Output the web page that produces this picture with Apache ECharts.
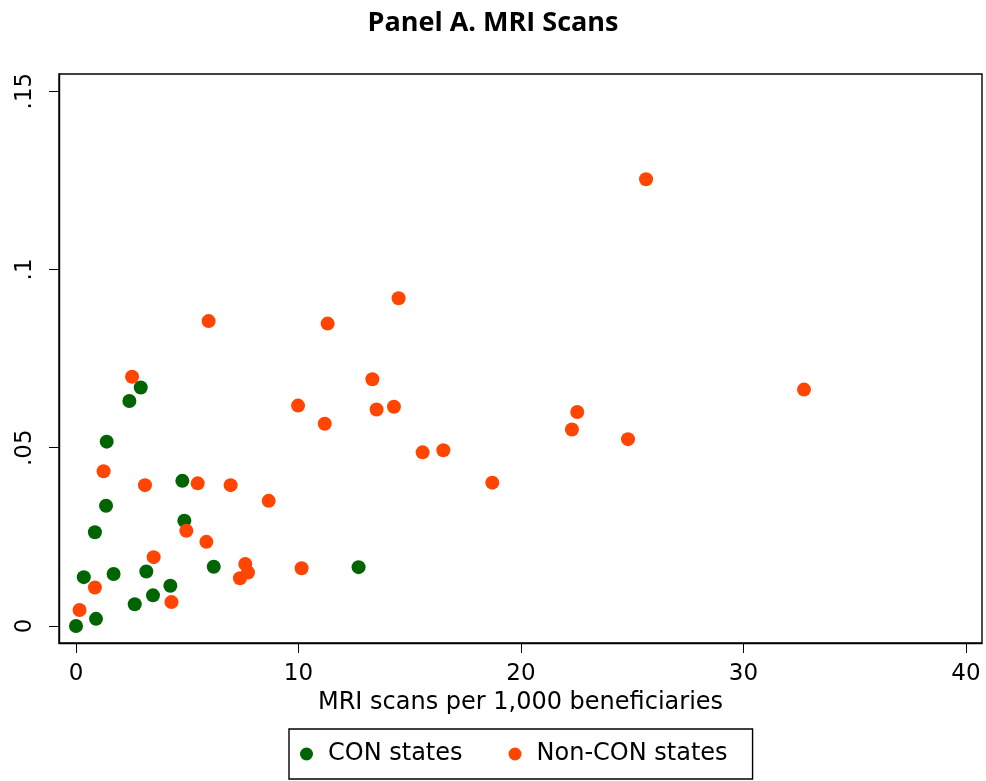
<!DOCTYPE html>
<html>
<head>
<meta charset="utf-8">
<script src="https://cdn.jsdelivr.net/npm/echarts@6/dist/echarts.min.js"></script>
<style>html,body{margin:0;padding:0;background:#fff}#chart{width:986px;height:781px}</style>
</head>
<body>
<div id="chart"></div>
<script>
const conX = [0, 0.90, 0.35, 1.69, 0.85, 1.35, 1.38, 2.40, 2.91, 2.64, 3.16, 3.46, 4.24, 4.78, 4.87, 6.19, 12.7];
const conY = [0, 0.0020, 0.0137, 0.0146, 0.0263, 0.0337, 0.0517, 0.0631, 0.0669, 0.0061, 0.0153, 0.0086, 0.0113, 0.0407, 0.0295, 0.0166, 0.0165];
const nonConX = [0.16, 0.85, 1.24, 2.52, 3.10, 3.49, 4.29, 4.96, 5.47, 5.86, 6.95, 7.61, 7.73, 7.37, 8.66, 9.98, 10.14, 11.18, 5.96, 11.31, 14.50, 13.32, 13.51, 14.29, 15.58, 16.51, 18.71, 25.62, 32.72, 22.53, 22.29, 24.81];
const nonConY = [0.0045, 0.0108, 0.0434, 0.0699, 0.0395, 0.0193, 0.0067, 0.0267, 0.0400, 0.0236, 0.0395, 0.0174, 0.0150, 0.0134, 0.0351, 0.0618, 0.0162, 0.0567, 0.0855, 0.0848, 0.0919, 0.0692, 0.0607, 0.0615, 0.0487, 0.0493, 0.0402, 0.1253, 0.0663, 0.0600, 0.0551, 0.0524];
const xTicks = [0, 10, 20, 30, 40];
const yTicks = [0, 0.05, 0.1, 0.15];
const yTickLabels = ['0', '.05', '.1', '.15'];
const seriesNames = ['CON states', 'Non-CON states'];
const titleText = 'Panel A. MRI Scans';
const xTitle = 'MRI scans per 1,000 beneficiaries';

const pair = (xs, ys) => xs.map((x, i) => [x, ys[i]]);
const font = '"DejaVu Sans", sans-serif';

const chart = echarts.init(document.getElementById('chart'));
chart.setOption({
  animation: false,
  backgroundColor: '#fff',
  title: {
    text: titleText, left: 'center', top: 5,
    textStyle: { fontFamily: '"Open Sans", sans-serif', fontWeight: 'bold', fontSize: 27, color: '#000' }
  },
  grid: { left: 59, top: 74, right: 4, bottom: 138, show: true, borderColor: '#000', borderWidth: 1.4, backgroundColor: '#fff' },
  xAxis: {
    type: 'value', min: -0.764, max: 40.72,
    axisLine: { onZero: false, lineStyle: { color: '#000', width: 1.4 } },
    axisTick: { show: true, length: 10, customValues: xTicks, lineStyle: { color: '#000' } },
    axisLabel: { customValues: xTicks, margin: 20, fontSize: 23, color: '#000', fontFamily: font },
    splitLine: { show: false },
    name: xTitle, nameLocation: 'middle', nameGap: 44,
    nameTextStyle: { fontSize: 24, color: '#000', fontFamily: font }
  },
  yAxis: {
    type: 'value', min: -0.00477, max: 0.1548,
    axisLine: { onZero: false, lineStyle: { color: '#000', width: 1.4 } },
    axisTick: { show: true, length: 10, customValues: yTicks, lineStyle: { color: '#000' } },
    axisLabel: {
      customValues: yTicks, rotate: 90, margin: 22, fontSize: 23, color: '#000', fontFamily: font,
      formatter: v => yTickLabels[yTicks.findIndex(t => Math.abs(t - v) < 1e-9)]
    },
    splitLine: { show: false }
  },
  legend: {
    data: seriesNames, left: 289, top: 729,
    borderColor: '#000', borderWidth: 1.4, padding: [13, 25, 13, 11],
    itemGap: 46, itemWidth: 13, itemHeight: 13, icon: 'circle',
    textStyle: { fontSize: 24, color: '#000', fontFamily: font, padding: [0, 0, 0, 10] }
  },
  series: [
    { name: seriesNames[0], type: 'scatter', symbolSize: 14, itemStyle: { color: '#006400', opacity: 1 }, data: pair(conX, conY) },
    { name: seriesNames[1], type: 'scatter', symbolSize: 14, itemStyle: { color: '#FF4500', opacity: 1 }, data: pair(nonConX, nonConY) }
  ]
});
</script>
</body>
</html>
